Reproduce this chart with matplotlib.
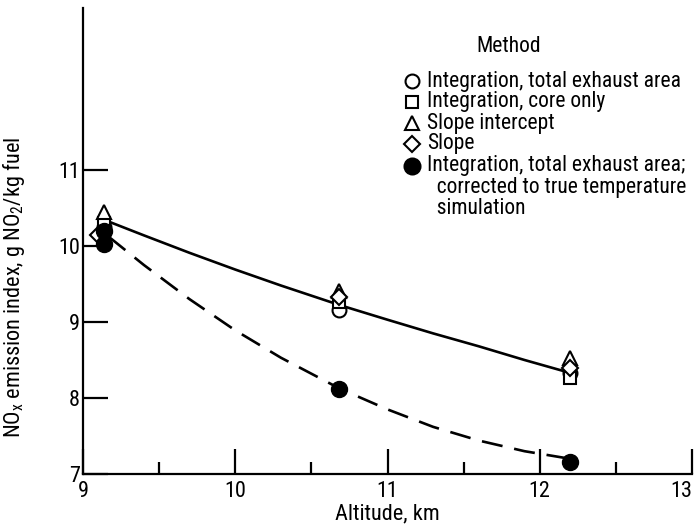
import matplotlib
matplotlib.use("Agg")
import matplotlib.pyplot as plt
from matplotlib.ticker import MultipleLocator, FixedLocator
from matplotlib import font_manager as fm

names = {f.name for f in fm.fontManager.ttflist}
family = [n for n in ['Roboto Condensed', 'DejaVu Sans'] if n in names] or ['DejaVu Sans']
plt.rcParams['font.family'] = family
plt.rcParams['mathtext.fontset'] = 'custom'
plt.rcParams['mathtext.rm'] = family[0]
plt.rcParams['mathtext.it'] = family[0]

# ---- data ----
altitude = [9.14, 10.68, 12.20]
diamond_altitude = [9.10, 10.68, 12.20]
integ_total = [10.25, 9.16, 8.33]
integ_core = [10.30, 9.26, 8.26]
slope_intercept = [10.45, 9.41, 8.52]
slope = [10.15, 9.33, 8.40]
corrected_altitude = [9.14, 9.14, 10.68, 12.20]
corrected = [10.02, 10.20, 8.12, 7.16]

# faired curves
solid_x = [9.17, 9.4, 9.7, 10.0, 10.3, 10.69, 11.0, 11.3, 11.6, 11.9, 12.2]
solid_y = [10.32, 10.14, 9.91, 9.69, 9.48, 9.22, 9.03, 8.85, 8.68, 8.50, 8.33]
dash_x = [9.17, 9.4, 9.7, 10.0, 10.3, 10.69, 11.0, 11.3, 11.6, 11.9, 12.2]
dash_y = [10.12, 9.75, 9.30, 8.89, 8.53, 8.12, 7.85, 7.62, 7.44, 7.30, 7.20]

x_ticks = [9, 10, 11, 12, 13]
y_ticks = [7, 8, 9, 10, 11]

legend_labels = ["Integration, total exhaust area",
                 "Integration, core only",
                 "Slope intercept",
                 "Slope",
                 "Integration, total exhaust area;\n  corrected to true temperature\n  simulation"]

W, H = 699, 528
fig = plt.figure(figsize=(W / 100, H / 100), dpi=100)
ax = fig.add_axes([83 / W, (H - 474) / H, 609 / W, 466 / H])
ax.set_xlim(9, 13)
ax.set_ylim(7, 7 + 466 / 76)

FS = 16
lw_ax = 1.6
for s in ['top', 'right']:
    ax.spines[s].set_visible(False)
for s in ['left', 'bottom']:
    ax.spines[s].set_linewidth(lw_ax)

ax.xaxis.set_major_locator(FixedLocator(x_ticks))
ax.xaxis.set_minor_locator(MultipleLocator(0.5))
ax.yaxis.set_major_locator(FixedLocator(y_ticks))
ax.tick_params(axis='x', which='major', direction='in', length=18, width=lw_ax,
               labelsize=FS, pad=5)
ax.tick_params(axis='x', which='minor', direction='in', length=8.5, width=lw_ax)
ax.tick_params(axis='y', which='major', direction='in', length=18, width=lw_ax,
               labelsize=FS, pad=2)
ax.set_xticklabels([str(t) for t in x_ticks])
ax.get_xticklabels()[-1].set_ha('right')

ax.plot(solid_x, solid_y, color='black', lw=1.9, solid_capstyle='butt')
ax.plot(dash_x, dash_y, color='black', lw=1.9, dashes=(8, 4.5))

mk = dict(linestyle='none', color='black', markerfacecolor='white',
          markeredgewidth=1.5, clip_on=False)
ax.plot(altitude, integ_total, marker='o', markersize=10, **mk)
ax.plot(altitude, integ_core, marker='s', markersize=9, **mk)
ax.plot(altitude, slope_intercept, marker='^', markersize=10, **mk)
ax.plot(diamond_altitude, slope, marker='D', markersize=8, **mk)
ax.plot(corrected_altitude, corrected, marker='o', markersize=11.5, linestyle='none',
        color='black', clip_on=False)

ax.set_xlabel("Altitude, km", fontsize=FS, labelpad=1)
ax.set_ylabel(r"NO$_\mathrm{x}$ emission index, g NO$_2$/kg fuel", fontsize=FS)
ax.yaxis.set_label_coords(-0.092, 0.40)

# manual legend
def fx(px):
    return px / W

def fy(py):
    return 1 - py / H

LFS = 15.5
fig.text(fx(509), fy(46), "Method", fontsize=LFS, ha='center', va='center')
rows = [81, 102, 123, 144, 166]
markers = [('o', 10, 'white'), ('s', 9, 'white'), ('^', 10, 'white'),
           ('D', 8, 'white'), ('o', 11.5, 'black')]
for (m, ms, fc), py in zip(markers, rows):
    fig.lines.append(plt.Line2D([fx(412)], [fy(py)], marker=m, markersize=ms,
                                markerfacecolor=fc, markeredgecolor='black',
                                markeredgewidth=1.5, linestyle='none',
                                transform=fig.transFigure))

for py, lab in zip(rows[:4], legend_labels[:4]):
    fig.text(fx(427), fy(py), lab, fontsize=LFS, ha='left', va='center')
for i, line in enumerate(legend_labels[4].split("\n")):
    fig.text(fx(427), fy(rows[4] + 21 * i), line, fontsize=LFS,
             ha='left', va='center')

fig.savefig("out.png", dpi=100)
